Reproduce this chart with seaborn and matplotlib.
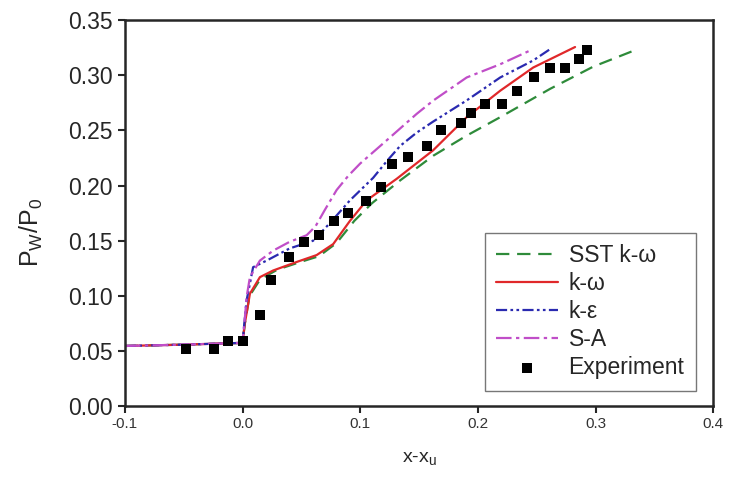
import numpy as np
import pandas as pd
import matplotlib
matplotlib.use('Agg')
import matplotlib.pyplot as plt
import seaborn as sns

# SST k-omega
sst_x = [-0.1, -0.05, 0.0, 0.002, 0.006, 0.015, 0.03, 0.05, 0.065, 0.08, 0.095, 0.11,
         0.134, 0.162, 0.19, 0.219, 0.2614, 0.298, 0.3365]
sst_y = [0.0546, 0.0558, 0.0574, 0.075, 0.100, 0.115, 0.124, 0.131, 0.136, 0.148, 0.168, 0.184,
         0.2047, 0.227, 0.245, 0.262, 0.2877, 0.3078, 0.324]

# k-omega
kw_x = [-0.1, -0.05, 0.0, 0.002, 0.0063, 0.0148, 0.026, 0.0459, 0.063, 0.0771, 0.0913, 0.1055,
        0.1311, 0.162, 0.1905, 0.219, 0.247, 0.2826]
kw_y = [0.0546, 0.0558, 0.0574, 0.075, 0.102, 0.117, 0.123, 0.1307, 0.137, 0.147, 0.168, 0.1866,
        0.2062, 0.232, 0.262, 0.286, 0.307, 0.3256]

# k-epsilon
ke_x = [-0.1, -0.05, 0.0, 0.002, 0.0035, 0.009, 0.0205, 0.04, 0.06, 0.0743, 0.0913, 0.111,
        0.1225, 0.134, 0.148, 0.162, 0.1905, 0.219, 0.247, 0.2628]
ke_y = [0.0546, 0.0558, 0.0574, 0.080, 0.096, 0.126, 0.132, 0.143, 0.150, 0.166, 0.1866, 0.207,
        0.222, 0.236, 0.248, 0.258, 0.2772, 0.298, 0.3134, 0.3247]

# S-A
sa_x = [-0.1, -0.05, 0.0, 0.002, 0.0035, 0.0063, 0.0148, 0.026, 0.040, 0.0545, 0.062, 0.070,
        0.080, 0.090, 0.100, 0.1225, 0.148, 0.162, 0.1905, 0.219, 0.2445]
sa_y = [0.0546, 0.0558, 0.0574, 0.080, 0.099, 0.117, 0.132, 0.141, 0.149, 0.155, 0.163, 0.178,
        0.196, 0.209, 0.220, 0.241, 0.265, 0.277, 0.298, 0.310, 0.3225]

# experiment
exp_x = [-0.048, -0.024, -0.012, 0.0006, 0.0148, 0.0241, 0.0395, 0.052, 0.065, 0.0775, 0.0899,
         0.1047, 0.118, 0.127, 0.1409, 0.157, 0.169, 0.1855, 0.1945, 0.2059, 0.2203, 0.2336,
         0.2475, 0.2611, 0.2744, 0.286, 0.2926]
exp_y = [0.0523, 0.0516, 0.059, 0.059, 0.0827, 0.114, 0.135, 0.1486, 0.155, 0.168, 0.175,
         0.186, 0.1987, 0.2192, 0.2258, 0.236, 0.2506, 0.2566, 0.266, 0.2736, 0.2736, 0.286,
         0.2983, 0.307, 0.307, 0.315, 0.3225]

x_ticks = [-0.1, 0.0, 0.1, 0.2, 0.3, 0.4]
y_ticks = [0.00, 0.05, 0.10, 0.15, 0.20, 0.25, 0.30, 0.35]

sns.set_style('ticks')
plt.rcParams['font.family'] = ['Liberation Sans', 'DejaVu Sans']
plt.rcParams['mathtext.fontset'] = 'custom'
plt.rcParams['mathtext.rm'] = 'Liberation Sans'

fig = plt.figure(figsize=(7.3, 4.79), dpi=100)
ax = fig.add_axes([0.171, 0.152, 0.806, 0.806])

sns.lineplot(x=sst_x, y=sst_y, ax=ax, color='#2e8b3a', lw=1.6, sort=False,
             linestyle=(0, (6, 3.5)), label='SST k-ω')
sns.lineplot(x=kw_x, y=kw_y, ax=ax, color='#e0282a', lw=1.6, sort=False, label='k-ω')
sns.lineplot(x=ke_x, y=ke_y, ax=ax, color='#2a2ab0', lw=1.6, sort=False,
             linestyle=(0, (5, 1.5, 1.2, 1.5, 1.2, 1.5)), label='k-ε')
sns.lineplot(x=sa_x, y=sa_y, ax=ax, color='#c04ec8', lw=1.6, sort=False,
             linestyle=(0, (7, 2, 1.5, 2)), label='S-A')
sns.scatterplot(x=exp_x, y=exp_y, ax=ax, marker='s', s=42, color='black',
                edgecolor='black', linewidth=0, label='Experiment', zorder=5)

ax.set_xlim(-0.1, 0.4)
ax.set_ylim(0.0, 0.35)
ax.set_xticks(x_ticks)
ax.set_yticks(y_ticks)
ax.set_xticklabels(['%.1f' % v for v in x_ticks], fontsize=11, color='#333333')
ax.set_yticklabels(['%.2f' % v for v in y_ticks], fontsize=16.5)
ax.tick_params(direction='out', length=5, width=1.5)
ax.tick_params(axis='x', pad=3)
for s in ax.spines.values():
    s.set_linewidth(1.8)
    s.set_visible(True)

ax.set_xlabel(r'x-x$_\mathregular{u}$', fontsize=14)
ax.set_ylabel(r'P$_\mathregular{W}$/P$_\mathregular{0}$', fontsize=18)
ax.xaxis.set_label_coords(0.5, -0.115)
ax.yaxis.set_label_coords(-0.135, 0.45)

leg = ax.legend(loc='lower right', bbox_to_anchor=(0.99, 0.01), fontsize=16.5,
                frameon=True, fancybox=False, edgecolor='#555555', handlelength=2.7,
                handletextpad=0.45, labelspacing=0.22, borderpad=0.5)
leg.get_frame().set_linewidth(1.0)

fig.savefig('out.png', dpi=100)
